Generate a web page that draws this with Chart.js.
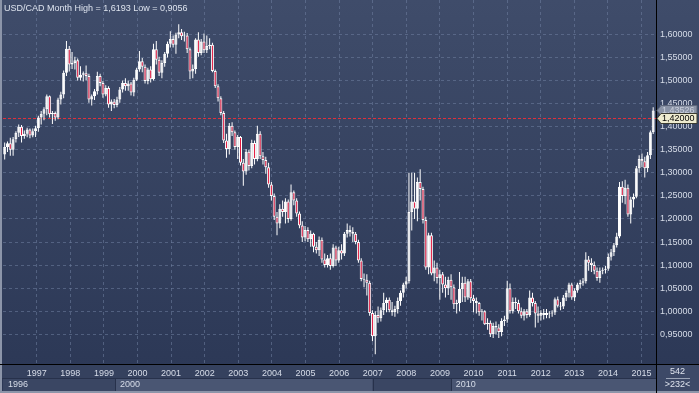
<!DOCTYPE html>
<html>
<head>
<meta charset="utf-8">
<script src="https://cdn.jsdelivr.net/npm/chart.js@4.4.1/dist/chart.umd.min.js"></script>
<style>
  html, body { margin: 0; padding: 0; background: #2f3b58; }
</style>
</head>
<body>
<canvas id="chart" width="699" height="393"></canvas>
<script>
// monthly USD/CAD candles (one entry per bar)
const opens = [
  1.340,1.356,1.364,1.350,1.373,1.387,1.400,1.380,1.385,1.394,1.381,1.390,
  1.397,1.420,1.428,1.438,1.466,1.427,1.430,1.420,1.459,1.470,1.517,1.569,
  1.535,1.538,1.544,1.506,1.513,1.516,1.510,1.459,1.466,1.477,1.510,1.495,
  1.470,1.484,1.448,1.455,1.447,1.459,1.481,1.495,1.488,1.494,1.474,1.502,
  1.524,1.542,1.530,1.499,1.524,1.503,1.568,1.545,1.517,1.538,1.558,1.580,
  1.590,1.578,1.600,1.605,1.596,1.598,1.568,1.520,1.525,1.589,1.560,1.585,
  1.566,1.575,1.578,1.521,1.488,1.462,1.430,1.370,1.352,1.402,1.388,1.356,
  1.378,1.322,1.303,1.346,1.315,1.365,1.330,1.385,1.336,1.328,1.312,1.275,
  1.250,1.205,1.190,1.222,1.215,1.238,1.200,1.258,1.240,1.212,1.186,1.160,
  1.176,1.156,1.168,1.140,1.132,1.155,1.112,1.100,1.115,1.098,1.138,1.110,
  1.132,1.125,1.168,1.176,1.172,1.168,1.150,1.110,1.070,1.068,1.062,0.996,
  0.946,0.992,0.985,1.002,1.018,1.025,1.002,0.998,1.005,1.022,1.040,1.058,
  1.065,1.215,1.238,1.222,1.280,1.265,1.198,1.095,1.165,1.082,1.095,1.072,
  1.080,1.058,1.050,1.068,1.052,1.015,1.018,1.048,1.062,1.030,1.065,1.028,
  1.022,1.018,0.998,1.000,0.972,0.975,0.950,0.968,0.965,0.955,0.979,0.982,
  1.050,1.000,1.020,1.018,1.000,0.990,1.000,0.992,1.030,1.018,0.995,0.990,
  0.996,0.992,0.996,0.995,0.997,1.026,1.012,1.010,1.030,1.040,1.058,1.030,
  1.045,1.058,1.062,1.065,1.112,1.105,1.100,1.088,1.072,1.088,1.090,1.092,
  1.118,1.128,1.143,1.162,1.270,1.250,1.268,1.210,1.242,1.248,1.310,1.330,
  1.325,1.310,1.338,1.388
];
const highs = [
  1.366,1.368,1.376,1.378,1.390,1.405,1.404,1.392,1.398,1.396,1.396,1.402,
  1.424,1.434,1.442,1.470,1.468,1.434,1.433,1.463,1.476,1.522,1.586,1.575,
  1.562,1.552,1.548,1.531,1.520,1.533,1.515,1.470,1.482,1.519,1.515,1.499,
  1.490,1.488,1.459,1.460,1.465,1.486,1.500,1.505,1.500,1.497,1.506,1.528,
  1.564,1.549,1.535,1.528,1.531,1.580,1.586,1.552,1.544,1.562,1.585,1.607,
  1.598,1.604,1.622,1.612,1.606,1.603,1.572,1.535,1.592,1.605,1.590,1.602,
  1.598,1.592,1.582,1.524,1.492,1.466,1.434,1.385,1.408,1.410,1.392,1.382,
  1.380,1.330,1.352,1.350,1.372,1.370,1.402,1.390,1.345,1.335,1.322,1.280,
  1.255,1.215,1.232,1.240,1.245,1.242,1.275,1.262,1.245,1.216,1.195,1.185,
  1.182,1.175,1.170,1.150,1.162,1.160,1.125,1.122,1.125,1.145,1.142,1.140,
  1.145,1.172,1.190,1.186,1.182,1.172,1.155,1.115,1.082,1.080,1.066,1.002,
  1.000,1.010,1.008,1.040,1.030,1.030,1.020,1.012,1.030,1.045,1.062,1.075,
  1.300,1.300,1.300,1.290,1.308,1.270,1.205,1.170,1.170,1.110,1.105,1.090,
  1.085,1.075,1.075,1.080,1.058,1.025,1.085,1.075,1.075,1.070,1.070,1.035,
  1.030,1.020,1.005,1.002,0.985,0.980,0.975,0.978,0.972,0.985,0.990,1.066,
  1.060,1.030,1.030,1.025,1.008,1.005,1.005,1.045,1.040,1.022,1.010,1.002,
  1.005,1.005,1.000,1.002,1.030,1.032,1.020,1.035,1.045,1.062,1.062,1.050,
  1.062,1.068,1.072,1.128,1.120,1.115,1.108,1.095,1.095,1.095,1.098,1.125,
  1.135,1.148,1.170,1.280,1.282,1.285,1.275,1.248,1.255,1.315,1.338,1.342,
  1.335,1.345,1.392,1.442
];
const lows = [
  1.329,1.345,1.337,1.337,1.366,1.378,1.366,1.374,1.377,1.375,1.377,1.378,
  1.389,1.405,1.414,1.425,1.420,1.406,1.413,1.416,1.448,1.462,1.510,1.520,
  1.525,1.524,1.500,1.500,1.498,1.500,1.452,1.446,1.458,1.470,1.488,1.463,
  1.466,1.441,1.434,1.440,1.442,1.452,1.474,1.478,1.478,1.468,1.466,1.499,
  1.519,1.518,1.494,1.492,1.496,1.500,1.535,1.510,1.505,1.530,1.550,1.572,
  1.572,1.558,1.592,1.588,1.585,1.560,1.503,1.505,1.515,1.552,1.555,1.560,
  1.560,1.568,1.518,1.484,1.455,1.425,1.365,1.333,1.340,1.380,1.350,1.330,
  1.316,1.272,1.296,1.305,1.310,1.318,1.325,1.330,1.318,1.298,1.268,1.240,
  1.198,1.165,1.180,1.205,1.190,1.192,1.196,1.230,1.205,1.180,1.150,1.152,
  1.150,1.140,1.128,1.125,1.120,1.105,1.095,1.095,1.090,1.095,1.098,1.105,
  1.112,1.120,1.160,1.162,1.150,1.145,1.105,1.065,1.052,1.034,0.990,0.935,
  0.907,0.975,0.978,0.992,0.998,0.998,0.990,0.988,0.995,1.012,1.030,1.050,
  1.060,1.175,1.200,1.195,1.240,1.190,1.090,1.080,1.078,1.065,1.060,1.025,
  1.040,1.030,1.035,1.025,1.005,0.995,1.000,1.020,1.020,1.025,1.018,0.998,
  0.995,0.990,0.980,0.970,0.960,0.944,0.942,0.950,0.942,0.946,0.968,0.975,
  0.995,0.995,1.005,0.995,0.985,0.980,0.985,0.988,1.010,0.965,0.975,0.980,
  0.982,0.985,0.985,0.988,0.992,1.008,1.002,1.005,1.022,1.030,1.025,1.022,
  1.040,1.050,1.055,1.060,1.088,1.085,1.080,1.066,1.062,1.080,1.082,1.088,
  1.110,1.120,1.138,1.158,1.235,1.232,1.205,1.190,1.225,1.245,1.300,1.312,
  1.290,1.302,1.330,1.384
];
const closes = [
  1.356,1.364,1.350,1.373,1.387,1.400,1.380,1.385,1.394,1.381,1.390,1.397,
  1.420,1.428,1.438,1.466,1.427,1.430,1.420,1.459,1.470,1.517,1.569,1.535,
  1.538,1.544,1.506,1.513,1.516,1.510,1.459,1.466,1.477,1.510,1.495,1.470,
  1.484,1.448,1.455,1.447,1.459,1.481,1.495,1.488,1.494,1.474,1.502,1.524,
  1.542,1.530,1.499,1.524,1.503,1.568,1.545,1.517,1.538,1.558,1.580,1.590,
  1.578,1.600,1.605,1.596,1.598,1.568,1.520,1.525,1.589,1.560,1.585,1.566,
  1.575,1.578,1.521,1.488,1.462,1.430,1.370,1.352,1.402,1.388,1.356,1.378,
  1.322,1.303,1.346,1.315,1.365,1.330,1.385,1.336,1.328,1.312,1.275,1.250,
  1.205,1.190,1.222,1.215,1.238,1.200,1.258,1.240,1.212,1.186,1.160,1.176,
  1.156,1.168,1.140,1.132,1.155,1.112,1.100,1.115,1.098,1.138,1.110,1.132,
  1.125,1.168,1.176,1.172,1.168,1.150,1.110,1.070,1.068,1.062,0.996,0.946,
  0.992,0.985,1.002,1.018,1.025,1.002,0.998,1.005,1.022,1.040,1.058,1.065,
  1.215,1.238,1.222,1.280,1.265,1.198,1.095,1.165,1.082,1.095,1.072,1.080,
  1.058,1.050,1.068,1.052,1.015,1.018,1.048,1.062,1.030,1.065,1.028,1.022,
  1.018,0.998,1.000,0.972,0.975,0.950,0.968,0.965,0.955,0.979,0.982,1.050,
  1.000,1.020,1.018,1.000,0.990,1.000,0.992,1.030,1.018,0.995,0.990,0.996,
  0.992,0.996,0.995,0.997,1.026,1.012,1.010,1.030,1.040,1.058,1.030,1.045,
  1.058,1.062,1.065,1.112,1.105,1.100,1.088,1.072,1.088,1.090,1.092,1.118,
  1.128,1.143,1.162,1.270,1.250,1.268,1.210,1.242,1.248,1.310,1.330,1.325,
  1.310,1.338,1.388,1.435
];

const yearLabels = ['1997','1998','1999','2000','2001','2002','2003','2004','2005','2006',
                    '2007','2008','2009','2010','2011','2012','2013','2014','2015'];
const priceTicks = [0.95, 1.00, 1.05, 1.10, 1.15, 1.20, 1.25, 1.30, 1.35, 1.40, 1.45, 1.50, 1.55, 1.60];
const lastPrice = 1.42;
const markPrice = 1.43526;
const titleText = 'USD/CAD Month High = 1,6193 Low = 0,9056';
const barCount = '542';
const visibleCount = '>232<';

// layout bits (bar units on the x scale)
const firstYearBar = 11.4;
const barsPerYear = 11.97;
const navSegments = [
  { label: '1996', from: -0.6, to: 39.3, dark: true },
  { label: '2000', from: 39.3, to: 131.1, dark: false },
  { label: '', from: 131.1, to: 158.9, dark: true },
  { label: '2010', from: 158.9, to: 232, dark: false }
];

const RED = '#e3173e';
const FONT = 'Liberation Sans, Arial, sans-serif';
const LABEL = '#d6dce8';
const GRID = 'rgba(112,128,160,0.55)';

const wicks = highs.map((h, i) => ({ x: i, y: [lows[i], h] }));
const bodies = opens.map((o, i) => ({ x: i, y: [o, closes[i]] }));
const bodyColors = opens.map((o, i) => closes[i] >= o ? '#ffffff' : RED);

const fmt = v => v.toFixed(5).replace('.', ',');
const noPad = s => { s.paddingTop = 0; s.paddingBottom = 0; s.paddingLeft = 0; s.paddingRight = 0; };

const backdrop = {
  id: 'backdrop',
  beforeDraw(chart) {
    const { ctx, width, height, chartArea, scales } = chart;
    const x = scales.x;
    ctx.save();
    const g = ctx.createLinearGradient(0, 0, 0, height);
    g.addColorStop(0, '#3f4c6a');
    g.addColorStop(1, '#2b3755');
    ctx.fillStyle = g;
    ctx.fillRect(0, 0, width, height);

    const b = chartArea.bottom;
    ctx.fillStyle = '#35415e';
    ctx.fillRect(0, b, chartArea.right, 14);
    navSegments.forEach(s => {
      const x0 = Math.max(chartArea.left, x.getPixelForValue(s.from));
      const x1 = Math.min(chartArea.right, x.getPixelForValue(s.to));
      ctx.fillStyle = s.dark ? '#3a4663' : '#4a5673';
      ctx.fillRect(x0, b + 14, x1 - x0, height - b - 16);
    });
    ctx.fillStyle = '#3d4967';
    ctx.fillRect(chartArea.right, b, width - chartArea.right, height - b);
    ctx.restore();
  }
};

function tag(ctx, left, right, y, fill, stroke, text, color) {
  const h = 10;
  ctx.beginPath();
  ctx.moveTo(left, y);
  ctx.lineTo(left + 4, y - h / 2);
  ctx.lineTo(right, y - h / 2);
  ctx.lineTo(right, y + h / 2);
  ctx.lineTo(left + 4, y + h / 2);
  ctx.closePath();
  ctx.fillStyle = fill;
  ctx.fill();
  ctx.strokeStyle = stroke;
  ctx.lineWidth = 1;
  ctx.stroke();
  ctx.fillStyle = color;
  ctx.textAlign = 'left';
  ctx.textBaseline = 'middle';
  ctx.fillText(text, left + 5, y + 0.5);
}

const overlay = {
  id: 'overlay',
  beforeDatasetsDraw(chart) {
    const { ctx, chartArea, scales } = chart;
    const py = Math.round(scales.y.getPixelForValue(lastPrice)) + 0.5;
    ctx.save();
    ctx.strokeStyle = '#e0303c';
    ctx.lineWidth = 1;
    ctx.setLineDash([3, 2]);
    ctx.beginPath();
    ctx.moveTo(chartArea.left, py);
    ctx.lineTo(chartArea.right, py);
    ctx.stroke();
    ctx.restore();
  },
  afterDraw(chart) {
    const { ctx, width, height, chartArea, scales } = chart;
    const x = scales.x, y = scales.y;
    const b = chartArea.bottom, r = chartArea.right;
    ctx.save();

    // frame lines
    ctx.fillStyle = '#8c95a9';
    ctx.fillRect(0, 0, 2, height);
    ctx.fillRect(0, height - 2, width, 2);
    ctx.fillStyle = '#000000';
    ctx.fillRect(r, 0, 1, height);
    ctx.fillRect(0, b, width, 1);
    ctx.fillStyle = '#27314b';
    ctx.fillRect(2, b + 14, r - 2, 1);
    navSegments.forEach(s => {
      if (s.from > 0) ctx.fillRect(Math.round(x.getPixelForValue(s.from)), b + 14, 1, height - b - 16);
    });

    ctx.font = '9px ' + FONT;
    ctx.textBaseline = 'middle';
    ctx.textAlign = 'left';
    ctx.fillStyle = LABEL;
    navSegments.forEach(s => {
      if (s.label) ctx.fillText(s.label, Math.max(chartArea.left, x.getPixelForValue(s.from)) + 5, b + 20.5);
    });

    // bar counter box
    const cx = (r + width) / 2;
    ctx.textAlign = 'center';
    ctx.fillStyle = '#dfe4ee';
    ctx.fillText(barCount, cx, b + 8);
    ctx.fillText(visibleCount, cx, b + 21);
    ctx.fillStyle = '#9aa3b6';
    ctx.fillRect(r + 10, b + 14, 24, 1);

    // price tags
    tag(ctx, r + 1, width - 2, Math.round(y.getPixelForValue(markPrice)) + 0.5, '#8a93a6', '#5c6579', fmt(markPrice), '#c9cfdb');
    tag(ctx, r + 1, width - 2, Math.round(y.getPixelForValue(lastPrice)) + 0.5, '#eeebcf', '#3b3b30', fmt(lastPrice), '#000000');

    // title
    ctx.textAlign = 'left';
    ctx.fillStyle = '#dde3ee';
    ctx.fillText(titleText, 4, 8.5);
    ctx.restore();
  }
};

new Chart(document.getElementById('chart'), {
  type: 'bar',
  data: {
    datasets: [
      {
        label: 'body',
        data: bodies,
        backgroundColor: bodyColors,
        borderColor: '#ffffff',
        borderWidth: 1,
        borderSkipped: false,
        barThickness: 3,
        inflateAmount: 0,
        grouped: false,
        order: 0
      },
      {
        label: 'wick',
        data: wicks,
        backgroundColor: '#ffffff',
        borderWidth: 0,
        barThickness: 1,
        inflateAmount: 0,
        grouped: false,
        order: 1
      }
    ]
  },
  options: {
    responsive: false,
    animation: false,
    layout: { padding: { left: 3, right: 0, top: 0, bottom: 0 } },
    plugins: { legend: { display: false }, tooltip: { enabled: false } },
    scales: {
      x: {
        type: 'linear',
        min: -0.6,
        max: 232,
        offset: false,
        afterBuildTicks: s => { s.ticks = yearLabels.map((_, k) => ({ value: firstYearBar + k * barsPerYear })); },
        afterFit: s => { s.height = 29; noPad(s); },
        grid: { offset: false, color: GRID, lineWidth: 1, drawTicks: false },
        border: { display: false, dash: [3, 3] },
        ticks: {
          autoSkip: false,
          maxRotation: 0,
          padding: 4,
          color: LABEL,
          font: { family: FONT, size: 9 },
          callback: (v, i) => yearLabels[i]
        }
      },
      y: {
        type: 'linear',
        position: 'right',
        min: 0.8856,
        max: 1.6748,
        beginAtZero: false,
        afterBuildTicks: s => { s.ticks = priceTicks.map(v => ({ value: v })); },
        afterFit: s => { s.width = 43; noPad(s); },
        grid: { color: GRID, lineWidth: 1, drawTicks: false },
        border: { display: false, dash: [3, 3] },
        ticks: {
          padding: 4,
          color: LABEL,
          font: { family: FONT, size: 9 },
          callback: v => fmt(v)
        }
      }
    }
  },
  plugins: [backdrop, overlay]
});
</script>
</body>
</html>
